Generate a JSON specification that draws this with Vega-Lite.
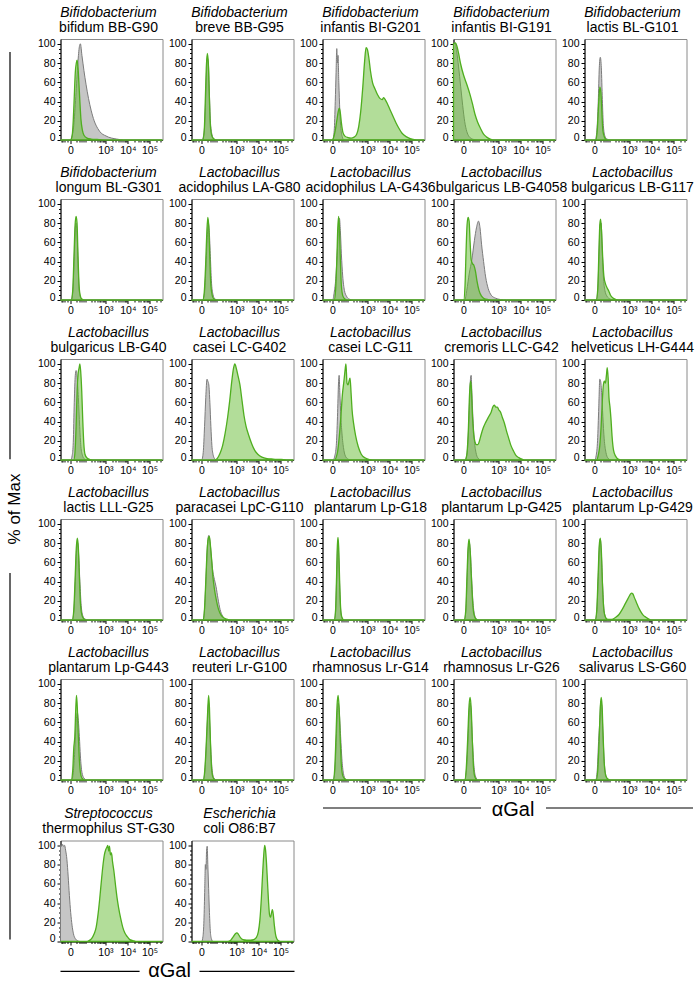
{
"$schema": "https://vega.github.io/schema/vega-lite/v6.json",
"padding": {"left": 0, "top": 5, "right": 0, "bottom": 0},
"background": "white",
"config": {
 "font": "Liberation Sans",
 "view": {"stroke": "#8a8a8a", "strokeWidth": 1},
 "title": {"font": "Liberation Sans", "fontSize": 14, "fontStyle": "italic", "fontWeight": "normal", "color": "#000", "subtitleFont": "Liberation Sans", "subtitleFontSize": 14, "subtitleColor": "#000", "subtitlePadding": 1, "offset": 4, "anchor": "middle", "dx": -3},
 "axis": {"domainColor": "#000", "tickColor": "#000", "labelColor": "#000", "labelFont": "Liberation Sans", "labelFontSize": 10.5, "labelPadding": 2, "grid": false, "title": null, "labelOverlap": false, "labelFlush": false},
 "axisX": {"labelExpr": "datum.value == 9.8 ? '0' : datum.value == 44 ? '10³' : datum.value == 66 ? '10⁴' : datum.value == 87.3 ? '10⁵' : ''", "tickSize": {"condition": {"test": "datum.value == 9.8 || datum.value == 44 || datum.value == 66 || datum.value == 87.3", "value": 3.5}, "value": 2}},
 "axisY": {"labelExpr": "datum.value % 20 == 0 ? datum.label : ''", "tickSize": {"condition": {"test": "datum.value % 20 == 0", "value": 3.5}, "value": 2}, "labelBaseline": {"condition": {"test": "datum.value == 0", "value": "alphabetic"}, "value": "middle"}}
},
"data": {"values": [
{"p":1,"g":"c","x":0,"y":0},{"p":1,"g":"c","x":9.5,"y":0},{"p":1,"g":"c","x":11,"y":3},{"p":1,"g":"c","x":13,"y":15},{"p":1,"g":"c","x":15,"y":45},{"p":1,"g":"c","x":17,"y":80},{"p":1,"g":"c","x":18.5,"y":97},{"p":1,"g":"c","x":19.5,"y":100},{"p":1,"g":"c","x":21,"y":88},{"p":1,"g":"c","x":23,"y":72},{"p":1,"g":"c","x":25,"y":58},{"p":1,"g":"c","x":27.5,"y":43},{"p":1,"g":"c","x":30,"y":31},{"p":1,"g":"c","x":33,"y":20},{"p":1,"g":"c","x":36.5,"y":12},{"p":1,"g":"c","x":40,"y":7},{"p":1,"g":"c","x":43,"y":5},{"p":1,"g":"c","x":47,"y":3},{"p":1,"g":"c","x":50,"y":2},{"p":1,"g":"c","x":55,"y":1},{"p":1,"g":"c","x":62,"y":0},{"p":1,"g":"c","x":100,"y":0},
{"p":1,"g":"s","x":0,"y":0},{"p":1,"g":"s","x":10,"y":0},{"p":1,"g":"s","x":11.5,"y":5},{"p":1,"g":"s","x":12.5,"y":20},{"p":1,"g":"s","x":13.5,"y":45},{"p":1,"g":"s","x":14.5,"y":70},{"p":1,"g":"s","x":15.5,"y":80},{"p":1,"g":"s","x":16.3,"y":83},{"p":1,"g":"s","x":17.2,"y":75},{"p":1,"g":"s","x":18,"y":60},{"p":1,"g":"s","x":19,"y":40},{"p":1,"g":"s","x":20,"y":22},{"p":1,"g":"s","x":21.5,"y":10},{"p":1,"g":"s","x":23,"y":5},{"p":1,"g":"s","x":26,"y":2},{"p":1,"g":"s","x":30,"y":1},{"p":1,"g":"s","x":36,"y":0.5},{"p":1,"g":"s","x":45,"y":0},{"p":1,"g":"s","x":100,"y":0},
{"p":2,"g":"c","x":0,"y":0},{"p":2,"g":"c","x":10,"y":0},{"p":2,"g":"c","x":12,"y":5},{"p":2,"g":"c","x":13.5,"y":30},{"p":2,"g":"c","x":14.5,"y":65},{"p":2,"g":"c","x":15.5,"y":85},{"p":2,"g":"c","x":16.5,"y":80},{"p":2,"g":"c","x":17.5,"y":50},{"p":2,"g":"c","x":18.5,"y":20},{"p":2,"g":"c","x":20,"y":6},{"p":2,"g":"c","x":22,"y":1},{"p":2,"g":"c","x":25,"y":0},{"p":2,"g":"c","x":100,"y":0},
{"p":2,"g":"s","x":0,"y":0},{"p":2,"g":"s","x":11,"y":0},{"p":2,"g":"s","x":12.5,"y":10},{"p":2,"g":"s","x":13.5,"y":40},{"p":2,"g":"s","x":14.5,"y":75},{"p":2,"g":"s","x":15.5,"y":90},{"p":2,"g":"s","x":16.5,"y":80},{"p":2,"g":"s","x":17.5,"y":45},{"p":2,"g":"s","x":18.5,"y":15},{"p":2,"g":"s","x":20,"y":4},{"p":2,"g":"s","x":22,"y":1},{"p":2,"g":"s","x":25,"y":0},{"p":2,"g":"s","x":100,"y":0},
{"p":3,"g":"c","x":0,"y":0},{"p":3,"g":"c","x":10,"y":0},{"p":3,"g":"c","x":11.5,"y":10},{"p":3,"g":"c","x":12.5,"y":40},{"p":3,"g":"c","x":13.3,"y":70},{"p":3,"g":"c","x":14,"y":95},{"p":3,"g":"c","x":14.6,"y":80},{"p":3,"g":"c","x":15.2,"y":88},{"p":3,"g":"c","x":16,"y":60},{"p":3,"g":"c","x":17,"y":30},{"p":3,"g":"c","x":18,"y":12},{"p":3,"g":"c","x":19.5,"y":3},{"p":3,"g":"c","x":21,"y":0},{"p":3,"g":"c","x":100,"y":0},
{"p":3,"g":"s","x":0,"y":0},{"p":3,"g":"s","x":9.5,"y":0},{"p":3,"g":"s","x":11,"y":3},{"p":3,"g":"s","x":12.5,"y":10},{"p":3,"g":"s","x":14,"y":20},{"p":3,"g":"s","x":15.5,"y":30},{"p":3,"g":"s","x":16.5,"y":33},{"p":3,"g":"s","x":17.5,"y":28},{"p":3,"g":"s","x":18.5,"y":18},{"p":3,"g":"s","x":20,"y":8},{"p":3,"g":"s","x":22,"y":4},{"p":3,"g":"s","x":25,"y":2.5},{"p":3,"g":"s","x":28,"y":2},{"p":3,"g":"s","x":31,"y":3},{"p":3,"g":"s","x":33.5,"y":6},{"p":3,"g":"s","x":35.5,"y":14},{"p":3,"g":"s","x":37.5,"y":30},{"p":3,"g":"s","x":39.5,"y":55},{"p":3,"g":"s","x":41.3,"y":82},{"p":3,"g":"s","x":42.7,"y":96},{"p":3,"g":"s","x":44,"y":94},{"p":3,"g":"s","x":45.5,"y":85},{"p":3,"g":"s","x":47,"y":72},{"p":3,"g":"s","x":49,"y":60},{"p":3,"g":"s","x":51.5,"y":53},{"p":3,"g":"s","x":54,"y":47},{"p":3,"g":"s","x":56.5,"y":43},{"p":3,"g":"s","x":58.5,"y":42},{"p":3,"g":"s","x":60,"y":44},{"p":3,"g":"s","x":61.5,"y":42},{"p":3,"g":"s","x":63.5,"y":38},{"p":3,"g":"s","x":66,"y":32},{"p":3,"g":"s","x":69,"y":25},{"p":3,"g":"s","x":72,"y":18},{"p":3,"g":"s","x":75,"y":12},{"p":3,"g":"s","x":78,"y":7},{"p":3,"g":"s","x":82,"y":3.5},{"p":3,"g":"s","x":86,"y":1.5},{"p":3,"g":"s","x":90,"y":0.5},{"p":3,"g":"s","x":94,"y":0},{"p":3,"g":"s","x":100,"y":0},
{"p":4,"g":"c","x":0,"y":100},{"p":4,"g":"c","x":1.5,"y":101},{"p":4,"g":"c","x":3,"y":93},{"p":4,"g":"c","x":5,"y":76},{"p":4,"g":"c","x":7,"y":56},{"p":4,"g":"c","x":9,"y":36},{"p":4,"g":"c","x":11,"y":19},{"p":4,"g":"c","x":13,"y":9},{"p":4,"g":"c","x":15,"y":4},{"p":4,"g":"c","x":17.5,"y":1.5},{"p":4,"g":"c","x":20,"y":0.5},{"p":4,"g":"c","x":24,"y":0},{"p":4,"g":"c","x":100,"y":0},
{"p":4,"g":"s","x":0,"y":100},{"p":4,"g":"s","x":2,"y":101},{"p":4,"g":"s","x":3.5,"y":97},{"p":4,"g":"s","x":5,"y":90},{"p":4,"g":"s","x":7,"y":79},{"p":4,"g":"s","x":10,"y":67},{"p":4,"g":"s","x":13,"y":58},{"p":4,"g":"s","x":16,"y":48},{"p":4,"g":"s","x":18.5,"y":38},{"p":4,"g":"s","x":21,"y":27},{"p":4,"g":"s","x":23.5,"y":19},{"p":4,"g":"s","x":26.5,"y":12},{"p":4,"g":"s","x":29.5,"y":6},{"p":4,"g":"s","x":32.5,"y":3},{"p":4,"g":"s","x":36,"y":1},{"p":4,"g":"s","x":40,"y":0},{"p":4,"g":"s","x":100,"y":0},
{"p":5,"g":"c","x":0,"y":0},{"p":5,"g":"c","x":10.5,"y":0},{"p":5,"g":"c","x":12,"y":8},{"p":5,"g":"c","x":13.5,"y":40},{"p":5,"g":"c","x":14.5,"y":75},{"p":5,"g":"c","x":15.5,"y":86},{"p":5,"g":"c","x":16.5,"y":75},{"p":5,"g":"c","x":17.5,"y":42},{"p":5,"g":"c","x":18.5,"y":15},{"p":5,"g":"c","x":20,"y":4},{"p":5,"g":"c","x":22,"y":1},{"p":5,"g":"c","x":25,"y":0},{"p":5,"g":"c","x":100,"y":0},
{"p":5,"g":"s","x":0,"y":0},{"p":5,"g":"s","x":11,"y":0},{"p":5,"g":"s","x":12.5,"y":10},{"p":5,"g":"s","x":14,"y":40},{"p":5,"g":"s","x":15,"y":55},{"p":5,"g":"s","x":16,"y":50},{"p":5,"g":"s","x":17,"y":30},{"p":5,"g":"s","x":18,"y":10},{"p":5,"g":"s","x":19.5,"y":3},{"p":5,"g":"s","x":22,"y":0},{"p":5,"g":"s","x":100,"y":0},
{"p":6,"g":"c","x":0,"y":0},{"p":6,"g":"c","x":10.5,"y":0},{"p":6,"g":"c","x":12,"y":8},{"p":6,"g":"c","x":13.5,"y":45},{"p":6,"g":"c","x":14.5,"y":75},{"p":6,"g":"c","x":15.3,"y":80},{"p":6,"g":"c","x":16.2,"y":70},{"p":6,"g":"c","x":17.2,"y":38},{"p":6,"g":"c","x":18.2,"y":12},{"p":6,"g":"c","x":19.5,"y":3},{"p":6,"g":"c","x":21,"y":0},{"p":6,"g":"c","x":100,"y":0},
{"p":6,"g":"s","x":0,"y":0},{"p":6,"g":"s","x":10.5,"y":0},{"p":6,"g":"s","x":12,"y":10},{"p":6,"g":"s","x":13.2,"y":45},{"p":6,"g":"s","x":14.3,"y":78},{"p":6,"g":"s","x":15.3,"y":87},{"p":6,"g":"s","x":16.2,"y":80},{"p":6,"g":"s","x":17.2,"y":45},{"p":6,"g":"s","x":18.2,"y":15},{"p":6,"g":"s","x":19.5,"y":4},{"p":6,"g":"s","x":21,"y":1},{"p":6,"g":"s","x":24,"y":0},{"p":6,"g":"s","x":100,"y":0},
{"p":7,"g":"c","x":0,"y":0},{"p":7,"g":"c","x":11,"y":0},{"p":7,"g":"c","x":12.5,"y":5},{"p":7,"g":"c","x":14,"y":30},{"p":7,"g":"c","x":15.3,"y":62},{"p":7,"g":"c","x":16.5,"y":80},{"p":7,"g":"c","x":17.5,"y":70},{"p":7,"g":"c","x":18.5,"y":45},{"p":7,"g":"c","x":19.5,"y":20},{"p":7,"g":"c","x":21,"y":6},{"p":7,"g":"c","x":23,"y":1},{"p":7,"g":"c","x":26,"y":0},{"p":7,"g":"c","x":100,"y":0},
{"p":7,"g":"s","x":0,"y":0},{"p":7,"g":"s","x":11,"y":0},{"p":7,"g":"s","x":12.5,"y":8},{"p":7,"g":"s","x":13.8,"y":35},{"p":7,"g":"s","x":15,"y":70},{"p":7,"g":"s","x":16,"y":86},{"p":7,"g":"s","x":17,"y":75},{"p":7,"g":"s","x":18,"y":42},{"p":7,"g":"s","x":19,"y":15},{"p":7,"g":"s","x":20.5,"y":4},{"p":7,"g":"s","x":22,"y":1},{"p":7,"g":"s","x":25,"y":0},{"p":7,"g":"s","x":100,"y":0},
{"p":8,"g":"c","x":0,"y":0},{"p":8,"g":"c","x":10,"y":0},{"p":8,"g":"c","x":11.5,"y":8},{"p":8,"g":"c","x":13,"y":22},{"p":8,"g":"c","x":14.5,"y":50},{"p":8,"g":"c","x":15.8,"y":78},{"p":8,"g":"c","x":16.6,"y":85},{"p":8,"g":"c","x":17.5,"y":72},{"p":8,"g":"c","x":18.5,"y":48},{"p":8,"g":"c","x":19.8,"y":25},{"p":8,"g":"c","x":21.5,"y":10},{"p":8,"g":"c","x":23.5,"y":4},{"p":8,"g":"c","x":26,"y":1},{"p":8,"g":"c","x":30,"y":0},{"p":8,"g":"c","x":100,"y":0},
{"p":8,"g":"s","x":0,"y":0},{"p":8,"g":"s","x":11.5,"y":0},{"p":8,"g":"s","x":12.8,"y":10},{"p":8,"g":"s","x":14,"y":40},{"p":8,"g":"s","x":15,"y":75},{"p":8,"g":"s","x":15.8,"y":87},{"p":8,"g":"s","x":16.6,"y":75},{"p":8,"g":"s","x":17.5,"y":42},{"p":8,"g":"s","x":18.5,"y":15},{"p":8,"g":"s","x":20,"y":4},{"p":8,"g":"s","x":22,"y":1},{"p":8,"g":"s","x":25,"y":0},{"p":8,"g":"s","x":100,"y":0},
{"p":9,"g":"c","x":0,"y":0},{"p":9,"g":"c","x":11,"y":0},{"p":9,"g":"c","x":13,"y":10},{"p":9,"g":"c","x":15.5,"y":28},{"p":9,"g":"c","x":18,"y":42},{"p":9,"g":"c","x":20.5,"y":62},{"p":9,"g":"c","x":22.5,"y":75},{"p":9,"g":"c","x":24.5,"y":82},{"p":9,"g":"c","x":26,"y":75},{"p":9,"g":"c","x":27.5,"y":58},{"p":9,"g":"c","x":29.5,"y":40},{"p":9,"g":"c","x":31.5,"y":24},{"p":9,"g":"c","x":34,"y":12},{"p":9,"g":"c","x":37,"y":5},{"p":9,"g":"c","x":41,"y":2},{"p":9,"g":"c","x":46,"y":0.5},{"p":9,"g":"c","x":52,"y":0},{"p":9,"g":"c","x":100,"y":0},
{"p":9,"g":"s","x":0,"y":0},{"p":9,"g":"s","x":10,"y":0},{"p":9,"g":"s","x":11.3,"y":15},{"p":9,"g":"s","x":12.3,"y":50},{"p":9,"g":"s","x":13.3,"y":78},{"p":9,"g":"s","x":14.3,"y":86},{"p":9,"g":"s","x":15.3,"y":82},{"p":9,"g":"s","x":16.3,"y":60},{"p":9,"g":"s","x":17.3,"y":42},{"p":9,"g":"s","x":18.5,"y":38},{"p":9,"g":"s","x":20,"y":36},{"p":9,"g":"s","x":21.5,"y":30},{"p":9,"g":"s","x":23,"y":20},{"p":9,"g":"s","x":25,"y":10},{"p":9,"g":"s","x":27.5,"y":4},{"p":9,"g":"s","x":30,"y":1.5},{"p":9,"g":"s","x":34,"y":0.5},{"p":9,"g":"s","x":40,"y":0},{"p":9,"g":"s","x":100,"y":0},
{"p":10,"g":"c","x":0,"y":0},{"p":10,"g":"c","x":11.5,"y":0},{"p":10,"g":"c","x":13,"y":10},{"p":10,"g":"c","x":14.3,"y":50},{"p":10,"g":"c","x":15.3,"y":78},{"p":10,"g":"c","x":16.3,"y":80},{"p":10,"g":"c","x":17.3,"y":55},{"p":10,"g":"c","x":18.5,"y":25},{"p":10,"g":"c","x":20,"y":10},{"p":10,"g":"c","x":22,"y":4},{"p":10,"g":"c","x":25,"y":1},{"p":10,"g":"c","x":28,"y":0},{"p":10,"g":"c","x":100,"y":0},
{"p":10,"g":"s","x":0,"y":0},{"p":10,"g":"s","x":11.5,"y":0},{"p":10,"g":"s","x":13,"y":12},{"p":10,"g":"s","x":14,"y":45},{"p":10,"g":"s","x":15,"y":78},{"p":10,"g":"s","x":15.8,"y":84},{"p":10,"g":"s","x":16.8,"y":70},{"p":10,"g":"s","x":17.8,"y":45},{"p":10,"g":"s","x":19,"y":25},{"p":10,"g":"s","x":20.5,"y":17},{"p":10,"g":"s","x":22,"y":13},{"p":10,"g":"s","x":23.5,"y":10},{"p":10,"g":"s","x":25.5,"y":5},{"p":10,"g":"s","x":28,"y":2},{"p":10,"g":"s","x":31,"y":0.5},{"p":10,"g":"s","x":35,"y":0},{"p":10,"g":"s","x":100,"y":0},
{"p":11,"g":"c","x":0,"y":0},{"p":11,"g":"c","x":10,"y":0},{"p":11,"g":"c","x":11.5,"y":5},{"p":11,"g":"c","x":12.5,"y":18},{"p":11,"g":"c","x":13.5,"y":60},{"p":11,"g":"c","x":14.5,"y":88},{"p":11,"g":"c","x":15.3,"y":93},{"p":11,"g":"c","x":16.3,"y":86},{"p":11,"g":"c","x":17.5,"y":65},{"p":11,"g":"c","x":18.8,"y":35},{"p":11,"g":"c","x":20,"y":14},{"p":11,"g":"c","x":21.5,"y":5},{"p":11,"g":"c","x":23.5,"y":1},{"p":11,"g":"c","x":26,"y":0},{"p":11,"g":"c","x":100,"y":0},
{"p":11,"g":"s","x":0,"y":0},{"p":11,"g":"s","x":13,"y":0},{"p":11,"g":"s","x":14.2,"y":8},{"p":11,"g":"s","x":15.3,"y":35},{"p":11,"g":"s","x":16.3,"y":72},{"p":11,"g":"s","x":17.3,"y":90},{"p":11,"g":"s","x":18.3,"y":96},{"p":11,"g":"s","x":19,"y":100},{"p":11,"g":"s","x":19.8,"y":92},{"p":11,"g":"s","x":20.8,"y":72},{"p":11,"g":"s","x":21.8,"y":42},{"p":11,"g":"s","x":22.8,"y":18},{"p":11,"g":"s","x":24,"y":6},{"p":11,"g":"s","x":26,"y":2},{"p":11,"g":"s","x":29,"y":0.5},{"p":11,"g":"s","x":33,"y":0},{"p":11,"g":"s","x":100,"y":0},
{"p":12,"g":"c","x":0,"y":0},{"p":12,"g":"c","x":10,"y":0},{"p":12,"g":"c","x":11.5,"y":8},{"p":12,"g":"c","x":12.8,"y":35},{"p":12,"g":"c","x":14,"y":65},{"p":12,"g":"c","x":15.2,"y":84},{"p":12,"g":"c","x":16,"y":82},{"p":12,"g":"c","x":17,"y":78},{"p":12,"g":"c","x":18,"y":60},{"p":12,"g":"c","x":19,"y":35},{"p":12,"g":"c","x":20,"y":15},{"p":12,"g":"c","x":21.3,"y":5},{"p":12,"g":"c","x":23,"y":1},{"p":12,"g":"c","x":25,"y":0},{"p":12,"g":"c","x":100,"y":0},
{"p":12,"g":"s","x":0,"y":0},{"p":12,"g":"s","x":23,"y":0},{"p":12,"g":"s","x":25.5,"y":2},{"p":12,"g":"s","x":28,"y":7},{"p":12,"g":"s","x":30.5,"y":15},{"p":12,"g":"s","x":33,"y":28},{"p":12,"g":"s","x":35.5,"y":45},{"p":12,"g":"s","x":37.5,"y":62},{"p":12,"g":"s","x":39.5,"y":82},{"p":12,"g":"s","x":41.3,"y":96},{"p":12,"g":"s","x":42.5,"y":100},{"p":12,"g":"s","x":44,"y":95},{"p":12,"g":"s","x":45.5,"y":88},{"p":12,"g":"s","x":47.5,"y":78},{"p":12,"g":"s","x":49.5,"y":62},{"p":12,"g":"s","x":51.5,"y":46},{"p":12,"g":"s","x":53.5,"y":35},{"p":12,"g":"s","x":56,"y":26},{"p":12,"g":"s","x":59,"y":17},{"p":12,"g":"s","x":62,"y":10},{"p":12,"g":"s","x":65,"y":6},{"p":12,"g":"s","x":69,"y":3},{"p":12,"g":"s","x":74,"y":1.5},{"p":12,"g":"s","x":80,"y":1},{"p":12,"g":"s","x":88,"y":0.5},{"p":12,"g":"s","x":95,"y":0},{"p":12,"g":"s","x":100,"y":0},
{"p":13,"g":"c","x":0,"y":0},{"p":13,"g":"c","x":10.5,"y":0},{"p":13,"g":"c","x":12,"y":4},{"p":13,"g":"c","x":13.5,"y":15},{"p":13,"g":"c","x":14.7,"y":45},{"p":13,"g":"c","x":15.7,"y":80},{"p":13,"g":"c","x":16.3,"y":88},{"p":13,"g":"c","x":17,"y":70},{"p":13,"g":"c","x":18,"y":45},{"p":13,"g":"c","x":19.3,"y":25},{"p":13,"g":"c","x":21,"y":10},{"p":13,"g":"c","x":23,"y":3},{"p":13,"g":"c","x":26,"y":0.5},{"p":13,"g":"c","x":29,"y":0},{"p":13,"g":"c","x":100,"y":0},
{"p":13,"g":"s","x":0,"y":0},{"p":13,"g":"s","x":12,"y":0},{"p":13,"g":"s","x":13.5,"y":3},{"p":13,"g":"s","x":15,"y":10},{"p":13,"g":"s","x":16.5,"y":25},{"p":13,"g":"s","x":18,"y":45},{"p":13,"g":"s","x":19.5,"y":68},{"p":13,"g":"s","x":21,"y":82},{"p":13,"g":"s","x":22.3,"y":95},{"p":13,"g":"s","x":23,"y":100},{"p":13,"g":"s","x":24,"y":80},{"p":13,"g":"s","x":25,"y":78},{"p":13,"g":"s","x":26,"y":82},{"p":13,"g":"s","x":27,"y":85},{"p":13,"g":"s","x":28,"y":70},{"p":13,"g":"s","x":29,"y":52},{"p":13,"g":"s","x":30.5,"y":38},{"p":13,"g":"s","x":32.5,"y":25},{"p":13,"g":"s","x":35,"y":14},{"p":13,"g":"s","x":38,"y":6},{"p":13,"g":"s","x":42,"y":2},{"p":13,"g":"s","x":46,"y":0.5},{"p":13,"g":"s","x":52,"y":0},{"p":13,"g":"s","x":100,"y":0},
{"p":14,"g":"c","x":0,"y":0},{"p":14,"g":"c","x":11,"y":0},{"p":14,"g":"c","x":13,"y":5},{"p":14,"g":"c","x":14.5,"y":25},{"p":14,"g":"c","x":15.7,"y":60},{"p":14,"g":"c","x":16.7,"y":85},{"p":14,"g":"c","x":17.3,"y":88},{"p":14,"g":"c","x":18,"y":70},{"p":14,"g":"c","x":19,"y":45},{"p":14,"g":"c","x":20.3,"y":22},{"p":14,"g":"c","x":22,"y":8},{"p":14,"g":"c","x":24,"y":2},{"p":14,"g":"c","x":27,"y":0},{"p":14,"g":"c","x":100,"y":0},
{"p":14,"g":"s","x":0,"y":0},{"p":14,"g":"s","x":11.5,"y":0},{"p":14,"g":"s","x":13,"y":5},{"p":14,"g":"s","x":14.5,"y":30},{"p":14,"g":"s","x":15.8,"y":70},{"p":14,"g":"s","x":16.7,"y":82},{"p":14,"g":"s","x":17.5,"y":75},{"p":14,"g":"s","x":18.5,"y":48},{"p":14,"g":"s","x":19.7,"y":28},{"p":14,"g":"s","x":21,"y":19},{"p":14,"g":"s","x":22.5,"y":16},{"p":14,"g":"s","x":24,"y":16},{"p":14,"g":"s","x":25.5,"y":20},{"p":14,"g":"s","x":27,"y":26},{"p":14,"g":"s","x":29,"y":33},{"p":14,"g":"s","x":31,"y":38},{"p":14,"g":"s","x":33,"y":42},{"p":14,"g":"s","x":35,"y":46},{"p":14,"g":"s","x":37,"y":50},{"p":14,"g":"s","x":38.5,"y":55},{"p":14,"g":"s","x":40,"y":57},{"p":14,"g":"s","x":41.5,"y":55},{"p":14,"g":"s","x":43,"y":55},{"p":14,"g":"s","x":44.5,"y":52},{"p":14,"g":"s","x":46,"y":50},{"p":14,"g":"s","x":48,"y":44},{"p":14,"g":"s","x":50,"y":38},{"p":14,"g":"s","x":52,"y":30},{"p":14,"g":"s","x":54,"y":23},{"p":14,"g":"s","x":56,"y":16},{"p":14,"g":"s","x":58.5,"y":10},{"p":14,"g":"s","x":61,"y":5},{"p":14,"g":"s","x":64,"y":2.5},{"p":14,"g":"s","x":67,"y":1},{"p":14,"g":"s","x":70,"y":0},{"p":14,"g":"s","x":100,"y":0},
{"p":15,"g":"c","x":0,"y":0},{"p":15,"g":"c","x":10,"y":0},{"p":15,"g":"c","x":11.5,"y":5},{"p":15,"g":"c","x":12.8,"y":20},{"p":15,"g":"c","x":14,"y":55},{"p":15,"g":"c","x":15,"y":84},{"p":15,"g":"c","x":15.8,"y":82},{"p":15,"g":"c","x":16.8,"y":70},{"p":15,"g":"c","x":18,"y":45},{"p":15,"g":"c","x":19.3,"y":22},{"p":15,"g":"c","x":21,"y":8},{"p":15,"g":"c","x":23,"y":2},{"p":15,"g":"c","x":26,"y":0},{"p":15,"g":"c","x":100,"y":0},
{"p":15,"g":"s","x":0,"y":0},{"p":15,"g":"s","x":12,"y":0},{"p":15,"g":"s","x":13.5,"y":5},{"p":15,"g":"s","x":15,"y":15},{"p":15,"g":"s","x":16.3,"y":35},{"p":15,"g":"s","x":17.5,"y":62},{"p":15,"g":"s","x":18.5,"y":78},{"p":15,"g":"s","x":19.5,"y":82},{"p":15,"g":"s","x":20.5,"y":80},{"p":15,"g":"s","x":21.5,"y":88},{"p":15,"g":"s","x":22.3,"y":96},{"p":15,"g":"s","x":23.2,"y":85},{"p":15,"g":"s","x":24,"y":65},{"p":15,"g":"s","x":25,"y":55},{"p":15,"g":"s","x":26,"y":42},{"p":15,"g":"s","x":27,"y":25},{"p":15,"g":"s","x":28.5,"y":10},{"p":15,"g":"s","x":30.5,"y":4},{"p":15,"g":"s","x":33,"y":1},{"p":15,"g":"s","x":37,"y":0},{"p":15,"g":"s","x":100,"y":0},
{"p":16,"g":"c","x":0,"y":0},{"p":16,"g":"c","x":11.5,"y":0},{"p":16,"g":"c","x":13,"y":8},{"p":16,"g":"c","x":14.5,"y":40},{"p":16,"g":"c","x":15.7,"y":72},{"p":16,"g":"c","x":16.8,"y":80},{"p":16,"g":"c","x":17.8,"y":68},{"p":16,"g":"c","x":19,"y":40},{"p":16,"g":"c","x":20.3,"y":15},{"p":16,"g":"c","x":22,"y":4},{"p":16,"g":"c","x":24,"y":1},{"p":16,"g":"c","x":27,"y":0},{"p":16,"g":"c","x":100,"y":0},
{"p":16,"g":"s","x":0,"y":0},{"p":16,"g":"s","x":11.5,"y":0},{"p":16,"g":"s","x":13,"y":10},{"p":16,"g":"s","x":14.3,"y":42},{"p":16,"g":"s","x":15.5,"y":75},{"p":16,"g":"s","x":16.5,"y":85},{"p":16,"g":"s","x":17.5,"y":75},{"p":16,"g":"s","x":18.5,"y":45},{"p":16,"g":"s","x":19.5,"y":18},{"p":16,"g":"s","x":21,"y":5},{"p":16,"g":"s","x":23,"y":1},{"p":16,"g":"s","x":26,"y":0},{"p":16,"g":"s","x":100,"y":0},
{"p":17,"g":"c","x":0,"y":0},{"p":17,"g":"c","x":11.5,"y":0},{"p":17,"g":"c","x":13,"y":15},{"p":17,"g":"c","x":14.5,"y":50},{"p":17,"g":"c","x":15.8,"y":80},{"p":17,"g":"c","x":17,"y":88},{"p":17,"g":"c","x":18.3,"y":80},{"p":17,"g":"c","x":19.5,"y":65},{"p":17,"g":"c","x":21,"y":50},{"p":17,"g":"c","x":22.5,"y":42},{"p":17,"g":"c","x":24,"y":35},{"p":17,"g":"c","x":26,"y":22},{"p":17,"g":"c","x":28,"y":11},{"p":17,"g":"c","x":30.5,"y":4},{"p":17,"g":"c","x":33,"y":1},{"p":17,"g":"c","x":37,"y":0},{"p":17,"g":"c","x":100,"y":0},
{"p":17,"g":"s","x":0,"y":0},{"p":17,"g":"s","x":11.5,"y":0},{"p":17,"g":"s","x":12.8,"y":12},{"p":17,"g":"s","x":14,"y":40},{"p":17,"g":"s","x":15.3,"y":72},{"p":17,"g":"s","x":16.5,"y":85},{"p":17,"g":"s","x":17.5,"y":87},{"p":17,"g":"s","x":18.5,"y":78},{"p":17,"g":"s","x":19.8,"y":62},{"p":17,"g":"s","x":21,"y":45},{"p":17,"g":"s","x":22.5,"y":32},{"p":17,"g":"s","x":24.5,"y":20},{"p":17,"g":"s","x":26.5,"y":11},{"p":17,"g":"s","x":29,"y":5},{"p":17,"g":"s","x":32,"y":2},{"p":17,"g":"s","x":36,"y":0.5},{"p":17,"g":"s","x":40,"y":0},{"p":17,"g":"s","x":100,"y":0},
{"p":18,"g":"c","x":0,"y":0},{"p":18,"g":"c","x":11.5,"y":0},{"p":18,"g":"c","x":12.8,"y":8},{"p":18,"g":"c","x":13.8,"y":40},{"p":18,"g":"c","x":14.6,"y":72},{"p":18,"g":"c","x":15.2,"y":80},{"p":18,"g":"c","x":16,"y":65},{"p":18,"g":"c","x":17,"y":30},{"p":18,"g":"c","x":18,"y":8},{"p":18,"g":"c","x":19.5,"y":1},{"p":18,"g":"c","x":21,"y":0},{"p":18,"g":"c","x":100,"y":0},
{"p":18,"g":"s","x":0,"y":0},{"p":18,"g":"s","x":11.5,"y":0},{"p":18,"g":"s","x":12.8,"y":10},{"p":18,"g":"s","x":13.8,"y":45},{"p":18,"g":"s","x":14.6,"y":78},{"p":18,"g":"s","x":15.2,"y":86},{"p":18,"g":"s","x":15.9,"y":75},{"p":18,"g":"s","x":16.8,"y":40},{"p":18,"g":"s","x":17.8,"y":12},{"p":18,"g":"s","x":19,"y":3},{"p":18,"g":"s","x":21,"y":0},{"p":18,"g":"s","x":100,"y":0},
{"p":19,"g":"c","x":0,"y":0},{"p":19,"g":"c","x":10.5,"y":0},{"p":19,"g":"c","x":12,"y":8},{"p":19,"g":"c","x":13.3,"y":40},{"p":19,"g":"c","x":14.5,"y":75},{"p":19,"g":"c","x":15.5,"y":80},{"p":19,"g":"c","x":16.5,"y":72},{"p":19,"g":"c","x":17.7,"y":45},{"p":19,"g":"c","x":19,"y":20},{"p":19,"g":"c","x":20.5,"y":6},{"p":19,"g":"c","x":22.5,"y":1},{"p":19,"g":"c","x":25,"y":0},{"p":19,"g":"c","x":100,"y":0},
{"p":19,"g":"s","x":0,"y":0},{"p":19,"g":"s","x":10.5,"y":0},{"p":19,"g":"s","x":12,"y":10},{"p":19,"g":"s","x":13.2,"y":45},{"p":19,"g":"s","x":14.3,"y":75},{"p":19,"g":"s","x":15.3,"y":84},{"p":19,"g":"s","x":16.3,"y":72},{"p":19,"g":"s","x":17.5,"y":45},{"p":19,"g":"s","x":18.7,"y":20},{"p":19,"g":"s","x":20,"y":6},{"p":19,"g":"s","x":22,"y":1},{"p":19,"g":"s","x":25,"y":0},{"p":19,"g":"s","x":100,"y":0},
{"p":20,"g":"c","x":0,"y":0},{"p":20,"g":"c","x":10.5,"y":0},{"p":20,"g":"c","x":12,"y":8},{"p":20,"g":"c","x":13.5,"y":45},{"p":20,"g":"c","x":14.7,"y":78},{"p":20,"g":"c","x":15.5,"y":84},{"p":20,"g":"c","x":16.5,"y":70},{"p":20,"g":"c","x":17.7,"y":38},{"p":20,"g":"c","x":19,"y":12},{"p":20,"g":"c","x":20.5,"y":3},{"p":20,"g":"c","x":22,"y":0},{"p":20,"g":"c","x":100,"y":0},
{"p":20,"g":"s","x":0,"y":0},{"p":20,"g":"s","x":10.5,"y":0},{"p":20,"g":"s","x":12,"y":10},{"p":20,"g":"s","x":13.3,"y":45},{"p":20,"g":"s","x":14.5,"y":78},{"p":20,"g":"s","x":15.5,"y":85},{"p":20,"g":"s","x":16.5,"y":72},{"p":20,"g":"s","x":17.7,"y":35},{"p":20,"g":"s","x":19,"y":10},{"p":20,"g":"s","x":20.5,"y":3},{"p":20,"g":"s","x":22,"y":1},{"p":20,"g":"s","x":25,"y":0.5},{"p":20,"g":"s","x":28,"y":1},{"p":20,"g":"s","x":31,"y":3},{"p":20,"g":"s","x":34,"y":6},{"p":20,"g":"s","x":37,"y":11},{"p":20,"g":"s","x":40,"y":17},{"p":20,"g":"s","x":42.5,"y":22},{"p":20,"g":"s","x":44.5,"y":26},{"p":20,"g":"s","x":46,"y":28},{"p":20,"g":"s","x":47.5,"y":27},{"p":20,"g":"s","x":49,"y":23},{"p":20,"g":"s","x":51,"y":18},{"p":20,"g":"s","x":53,"y":13},{"p":20,"g":"s","x":55,"y":9},{"p":20,"g":"s","x":57.5,"y":5},{"p":20,"g":"s","x":60,"y":3},{"p":20,"g":"s","x":63,"y":1},{"p":20,"g":"s","x":66,"y":0},{"p":20,"g":"s","x":100,"y":0},
{"p":21,"g":"c","x":0,"y":0},{"p":21,"g":"c","x":11,"y":0},{"p":21,"g":"c","x":12.5,"y":8},{"p":21,"g":"c","x":14,"y":30},{"p":21,"g":"c","x":15.3,"y":60},{"p":21,"g":"c","x":16.5,"y":70},{"p":21,"g":"c","x":17.5,"y":62},{"p":21,"g":"c","x":18.5,"y":45},{"p":21,"g":"c","x":19.5,"y":25},{"p":21,"g":"c","x":21,"y":8},{"p":21,"g":"c","x":23,"y":2},{"p":21,"g":"c","x":26,"y":0},{"p":21,"g":"c","x":100,"y":0},
{"p":21,"g":"s","x":0,"y":0},{"p":21,"g":"s","x":10.5,"y":0},{"p":21,"g":"s","x":12,"y":10},{"p":21,"g":"s","x":13,"y":33},{"p":21,"g":"s","x":14,"y":45},{"p":21,"g":"s","x":15,"y":75},{"p":21,"g":"s","x":15.7,"y":88},{"p":21,"g":"s","x":16.5,"y":75},{"p":21,"g":"s","x":17.3,"y":50},{"p":21,"g":"s","x":18.3,"y":25},{"p":21,"g":"s","x":19.5,"y":8},{"p":21,"g":"s","x":21,"y":2},{"p":21,"g":"s","x":24,"y":0},{"p":21,"g":"s","x":100,"y":0},
{"p":22,"g":"c","x":0,"y":0},{"p":22,"g":"c","x":11.5,"y":0},{"p":22,"g":"c","x":13,"y":8},{"p":22,"g":"c","x":14.5,"y":35},{"p":22,"g":"c","x":15.8,"y":65},{"p":22,"g":"c","x":16.8,"y":80},{"p":22,"g":"c","x":17.8,"y":60},{"p":22,"g":"c","x":19,"y":30},{"p":22,"g":"c","x":20.5,"y":8},{"p":22,"g":"c","x":22,"y":2},{"p":22,"g":"c","x":25,"y":0},{"p":22,"g":"c","x":100,"y":0},
{"p":22,"g":"s","x":0,"y":0},{"p":22,"g":"s","x":11.5,"y":0},{"p":22,"g":"s","x":13,"y":10},{"p":22,"g":"s","x":14.5,"y":38},{"p":22,"g":"s","x":15.8,"y":70},{"p":22,"g":"s","x":16.8,"y":88},{"p":22,"g":"s","x":17.6,"y":75},{"p":22,"g":"s","x":18.5,"y":42},{"p":22,"g":"s","x":19.7,"y":12},{"p":22,"g":"s","x":21,"y":3},{"p":22,"g":"s","x":23,"y":0},{"p":22,"g":"s","x":100,"y":0},
{"p":23,"g":"c","x":0,"y":0},{"p":23,"g":"c","x":10.5,"y":0},{"p":23,"g":"c","x":12,"y":8},{"p":23,"g":"c","x":13.3,"y":35},{"p":23,"g":"c","x":14.5,"y":70},{"p":23,"g":"c","x":15.5,"y":80},{"p":23,"g":"c","x":16.5,"y":70},{"p":23,"g":"c","x":17.8,"y":45},{"p":23,"g":"c","x":19,"y":22},{"p":23,"g":"c","x":20.5,"y":7},{"p":23,"g":"c","x":22.5,"y":1},{"p":23,"g":"c","x":25,"y":0},{"p":23,"g":"c","x":100,"y":0},
{"p":23,"g":"s","x":0,"y":0},{"p":23,"g":"s","x":10.5,"y":0},{"p":23,"g":"s","x":12,"y":12},{"p":23,"g":"s","x":13.2,"y":45},{"p":23,"g":"s","x":14.3,"y":78},{"p":23,"g":"s","x":15.3,"y":88},{"p":23,"g":"s","x":16.3,"y":75},{"p":23,"g":"s","x":17.3,"y":45},{"p":23,"g":"s","x":18.5,"y":15},{"p":23,"g":"s","x":20,"y":4},{"p":23,"g":"s","x":22,"y":1},{"p":23,"g":"s","x":25,"y":0},{"p":23,"g":"s","x":100,"y":0},
{"p":24,"g":"c","x":0,"y":0},{"p":24,"g":"c","x":11,"y":0},{"p":24,"g":"c","x":12.5,"y":8},{"p":24,"g":"c","x":14,"y":35},{"p":24,"g":"c","x":15.3,"y":70},{"p":24,"g":"c","x":16.3,"y":80},{"p":24,"g":"c","x":17.3,"y":70},{"p":24,"g":"c","x":18.5,"y":42},{"p":24,"g":"c","x":20,"y":15},{"p":24,"g":"c","x":21.5,"y":4},{"p":24,"g":"c","x":24,"y":0},{"p":24,"g":"c","x":100,"y":0},
{"p":24,"g":"s","x":0,"y":0},{"p":24,"g":"s","x":11,"y":0},{"p":24,"g":"s","x":12.5,"y":12},{"p":24,"g":"s","x":14,"y":45},{"p":24,"g":"s","x":15.3,"y":78},{"p":24,"g":"s","x":16.3,"y":86},{"p":24,"g":"s","x":17.3,"y":75},{"p":24,"g":"s","x":18.5,"y":40},{"p":24,"g":"s","x":19.7,"y":12},{"p":24,"g":"s","x":21,"y":3},{"p":24,"g":"s","x":23,"y":0},{"p":24,"g":"s","x":100,"y":0},
{"p":25,"g":"c","x":0,"y":0},{"p":25,"g":"c","x":11,"y":0},{"p":25,"g":"c","x":12.5,"y":10},{"p":25,"g":"c","x":13.8,"y":40},{"p":25,"g":"c","x":15,"y":62},{"p":25,"g":"c","x":16,"y":82},{"p":25,"g":"c","x":17,"y":75},{"p":25,"g":"c","x":18,"y":50},{"p":25,"g":"c","x":19.2,"y":22},{"p":25,"g":"c","x":20.5,"y":7},{"p":25,"g":"c","x":22.5,"y":1},{"p":25,"g":"c","x":25,"y":0},{"p":25,"g":"c","x":100,"y":0},
{"p":25,"g":"s","x":0,"y":0},{"p":25,"g":"s","x":11.5,"y":0},{"p":25,"g":"s","x":13,"y":10},{"p":25,"g":"s","x":14.3,"y":40},{"p":25,"g":"s","x":15.5,"y":75},{"p":25,"g":"s","x":16.3,"y":86},{"p":25,"g":"s","x":17.2,"y":78},{"p":25,"g":"s","x":18.3,"y":45},{"p":25,"g":"s","x":19.5,"y":15},{"p":25,"g":"s","x":21,"y":4},{"p":25,"g":"s","x":23,"y":1},{"p":25,"g":"s","x":26,"y":0},{"p":25,"g":"s","x":100,"y":0},
{"p":26,"g":"c","x":0,"y":100},{"p":26,"g":"c","x":1,"y":99},{"p":26,"g":"c","x":2,"y":101},{"p":26,"g":"c","x":3,"y":99},{"p":26,"g":"c","x":4,"y":100},{"p":26,"g":"c","x":5,"y":95},{"p":26,"g":"c","x":6.3,"y":85},{"p":26,"g":"c","x":7.5,"y":68},{"p":26,"g":"c","x":8.7,"y":48},{"p":26,"g":"c","x":10,"y":30},{"p":26,"g":"c","x":11.3,"y":17},{"p":26,"g":"c","x":12.7,"y":8},{"p":26,"g":"c","x":14.5,"y":3},{"p":26,"g":"c","x":16.5,"y":1},{"p":26,"g":"c","x":19,"y":0},{"p":26,"g":"c","x":100,"y":0},
{"p":26,"g":"s","x":0,"y":0},{"p":26,"g":"s","x":25,"y":0},{"p":26,"g":"s","x":28,"y":1},{"p":26,"g":"s","x":30.5,"y":3},{"p":26,"g":"s","x":33,"y":8},{"p":26,"g":"s","x":35,"y":15},{"p":26,"g":"s","x":37,"y":30},{"p":26,"g":"s","x":38.5,"y":45},{"p":26,"g":"s","x":40,"y":62},{"p":26,"g":"s","x":41.5,"y":78},{"p":26,"g":"s","x":43,"y":90},{"p":26,"g":"s","x":44.5,"y":96},{"p":26,"g":"s","x":45.5,"y":98},{"p":26,"g":"s","x":46.3,"y":100},{"p":26,"g":"s","x":47.3,"y":94},{"p":26,"g":"s","x":48,"y":99},{"p":26,"g":"s","x":49,"y":90},{"p":26,"g":"s","x":50,"y":92},{"p":26,"g":"s","x":51,"y":83},{"p":26,"g":"s","x":52.5,"y":72},{"p":26,"g":"s","x":54,"y":58},{"p":26,"g":"s","x":55.5,"y":45},{"p":26,"g":"s","x":57,"y":35},{"p":26,"g":"s","x":59,"y":24},{"p":26,"g":"s","x":61,"y":15},{"p":26,"g":"s","x":63,"y":9},{"p":26,"g":"s","x":65.5,"y":5},{"p":26,"g":"s","x":68,"y":2},{"p":26,"g":"s","x":71,"y":1},{"p":26,"g":"s","x":75,"y":0},{"p":26,"g":"s","x":100,"y":0},
{"p":27,"g":"c","x":0,"y":0},{"p":27,"g":"c","x":10,"y":0},{"p":27,"g":"c","x":11.2,"y":5},{"p":27,"g":"c","x":12.2,"y":22},{"p":27,"g":"c","x":13,"y":55},{"p":27,"g":"c","x":13.6,"y":80},{"p":27,"g":"c","x":14.2,"y":75},{"p":27,"g":"c","x":14.8,"y":95},{"p":27,"g":"c","x":15.4,"y":99},{"p":27,"g":"c","x":16,"y":80},{"p":27,"g":"c","x":16.8,"y":55},{"p":27,"g":"c","x":17.6,"y":30},{"p":27,"g":"c","x":18.5,"y":10},{"p":27,"g":"c","x":19.5,"y":3},{"p":27,"g":"c","x":21,"y":0},{"p":27,"g":"c","x":100,"y":0},
{"p":27,"g":"s","x":0,"y":0},{"p":27,"g":"s","x":34,"y":0},{"p":27,"g":"s","x":37,"y":0.5},{"p":27,"g":"s","x":39,"y":2},{"p":27,"g":"s","x":41,"y":5},{"p":27,"g":"s","x":43,"y":8},{"p":27,"g":"s","x":44.5,"y":9},{"p":27,"g":"s","x":46,"y":7.5},{"p":27,"g":"s","x":48,"y":4},{"p":27,"g":"s","x":50.5,"y":2},{"p":27,"g":"s","x":54,"y":1.5},{"p":27,"g":"s","x":58,"y":1.5},{"p":27,"g":"s","x":61,"y":2},{"p":27,"g":"s","x":63.5,"y":4},{"p":27,"g":"s","x":65.5,"y":10},{"p":27,"g":"s","x":67,"y":22},{"p":27,"g":"s","x":68.5,"y":45},{"p":27,"g":"s","x":69.7,"y":70},{"p":27,"g":"s","x":70.7,"y":88},{"p":27,"g":"s","x":71.7,"y":100},{"p":27,"g":"s","x":72.5,"y":96},{"p":27,"g":"s","x":73.5,"y":82},{"p":27,"g":"s","x":74.5,"y":62},{"p":27,"g":"s","x":75.5,"y":42},{"p":27,"g":"s","x":76.5,"y":28},{"p":27,"g":"s","x":77.5,"y":25},{"p":27,"g":"s","x":78.5,"y":30},{"p":27,"g":"s","x":79.3,"y":33},{"p":27,"g":"s","x":80.2,"y":28},{"p":27,"g":"s","x":81.2,"y":17},{"p":27,"g":"s","x":82.3,"y":8},{"p":27,"g":"s","x":83.5,"y":3},{"p":27,"g":"s","x":85,"y":1},{"p":27,"g":"s","x":87,"y":0},{"p":27,"g":"s","x":100,"y":0}
]},
"spacing": 13.5,
"hconcat": [
 {"width": 20, "height": 940, "data": {"values": [{}]}, "view": {"stroke": null},
  "layer": [
   {"mark": {"type": "rule", "color": "#000", "strokeWidth": 1.2}, "encoding": {"x": {"datum": 0.5, "type": "quantitative", "scale": {"domain": [0, 1]}, "axis": null}, "y": {"datum": 0.0138, "type": "quantitative", "scale": {"domain": [0, 1], "reverse": true}, "axis": null}, "y2": {"datum": 0.447}}},
   {"mark": {"type": "rule", "color": "#000", "strokeWidth": 1.2}, "encoding": {"x": {"datum": 0.5, "type": "quantitative", "scale": {"domain": [0, 1]}, "axis": null}, "y": {"datum": 0.568, "type": "quantitative", "scale": {"domain": [0, 1], "reverse": true}, "axis": null}, "y2": {"datum": 0.958}}},
   {"mark": {"type": "text", "text": "% of Max", "angle": 270, "fontSize": 17, "font": "Liberation Sans", "align": "center", "baseline": "middle", "color": "#000"}, "encoding": {"x": {"datum": 0.75, "type": "quantitative", "scale": {"domain": [0, 1]}, "axis": null}, "y": {"datum": 0.5, "type": "quantitative", "scale": {"domain": [0, 1], "reverse": true}, "axis": null}}}
  ]},
 {"spacing": 2.5, "vconcat": [
  {"columns": 5, "bounds": "flush", "spacing": {"row": 59, "column": 29},
   "concat": [
    {"title": {"text": "Bifidobacterium", "subtitle": "bifidum BB-G90"}, "width": 102, "height": 101,
     "encoding": {"x": {"field": "x", "type": "quantitative", "scale": {"domain": [0, 100]}, "axis": {"values": [1,2.3,4.1,6.5,9.8,15.3,18.7,20.9,22.6,24.7,30.1,33.5,36,37.9,39.4,40.8,42,43.1,44,50.5,54.3,57,59.1,60.8,62.3,63.5,64.6,66,72.4,76.2,78.8,80.9,82.6,84,85.2,86.3,87.3,93.8,97.6]}}, "y": {"field": "y", "type": "quantitative", "scale": {"domain": [0, 105]}, "axis": {"values": [0,5,10,15,20,25,30,35,40,45,50,55,60,65,70,75,80,85,90,95,100]}}},
     "layer": [
      {"transform": [{"filter": "datum.p == 1 && datum.g == 'c'"}], "mark": {"type": "area", "fill": "#c6c6c6", "stroke": "#7c7c7c", "strokeWidth": 1, "interpolate": "monotone"}},
      {"transform": [{"filter": "datum.p == 1 && datum.g == 's'"}], "mark": {"type": "area", "fill": "#66bb33", "fillOpacity": 0.5, "stroke": "#4fae1f", "strokeWidth": 1.3, "interpolate": "monotone"}}
     ]},
    {"title": {"text": "Bifidobacterium", "subtitle": "breve BB-G95"}, "width": 102, "height": 101,
     "encoding": {"x": {"field": "x", "type": "quantitative", "scale": {"domain": [0, 100]}, "axis": {"values": [1,2.3,4.1,6.5,9.8,15.3,18.7,20.9,22.6,24.7,30.1,33.5,36,37.9,39.4,40.8,42,43.1,44,50.5,54.3,57,59.1,60.8,62.3,63.5,64.6,66,72.4,76.2,78.8,80.9,82.6,84,85.2,86.3,87.3,93.8,97.6]}}, "y": {"field": "y", "type": "quantitative", "scale": {"domain": [0, 105]}, "axis": {"values": [0,5,10,15,20,25,30,35,40,45,50,55,60,65,70,75,80,85,90,95,100]}}},
     "layer": [
      {"transform": [{"filter": "datum.p == 2 && datum.g == 'c'"}], "mark": {"type": "area", "fill": "#c6c6c6", "stroke": "#7c7c7c", "strokeWidth": 1, "interpolate": "monotone"}},
      {"transform": [{"filter": "datum.p == 2 && datum.g == 's'"}], "mark": {"type": "area", "fill": "#66bb33", "fillOpacity": 0.5, "stroke": "#4fae1f", "strokeWidth": 1.3, "interpolate": "monotone"}}
     ]},
    {"title": {"text": "Bifidobacterium", "subtitle": "infantis BI-G201"}, "width": 102, "height": 101,
     "encoding": {"x": {"field": "x", "type": "quantitative", "scale": {"domain": [0, 100]}, "axis": {"values": [1,2.3,4.1,6.5,9.8,15.3,18.7,20.9,22.6,24.7,30.1,33.5,36,37.9,39.4,40.8,42,43.1,44,50.5,54.3,57,59.1,60.8,62.3,63.5,64.6,66,72.4,76.2,78.8,80.9,82.6,84,85.2,86.3,87.3,93.8,97.6]}}, "y": {"field": "y", "type": "quantitative", "scale": {"domain": [0, 105]}, "axis": {"values": [0,5,10,15,20,25,30,35,40,45,50,55,60,65,70,75,80,85,90,95,100]}}},
     "layer": [
      {"transform": [{"filter": "datum.p == 3 && datum.g == 'c'"}], "mark": {"type": "area", "fill": "#c6c6c6", "stroke": "#7c7c7c", "strokeWidth": 1, "interpolate": "monotone"}},
      {"transform": [{"filter": "datum.p == 3 && datum.g == 's'"}], "mark": {"type": "area", "fill": "#66bb33", "fillOpacity": 0.5, "stroke": "#4fae1f", "strokeWidth": 1.3, "interpolate": "monotone"}}
     ]},
    {"title": {"text": "Bifidobacterium", "subtitle": "infantis BI-G191"}, "width": 102, "height": 101,
     "encoding": {"x": {"field": "x", "type": "quantitative", "scale": {"domain": [0, 100]}, "axis": {"values": [1,2.3,4.1,6.5,9.8,15.3,18.7,20.9,22.6,24.7,30.1,33.5,36,37.9,39.4,40.8,42,43.1,44,50.5,54.3,57,59.1,60.8,62.3,63.5,64.6,66,72.4,76.2,78.8,80.9,82.6,84,85.2,86.3,87.3,93.8,97.6]}}, "y": {"field": "y", "type": "quantitative", "scale": {"domain": [0, 105]}, "axis": {"values": [0,5,10,15,20,25,30,35,40,45,50,55,60,65,70,75,80,85,90,95,100]}}},
     "layer": [
      {"transform": [{"filter": "datum.p == 4 && datum.g == 'c'"}], "mark": {"type": "area", "fill": "#c6c6c6", "stroke": "#7c7c7c", "strokeWidth": 1, "interpolate": "monotone"}},
      {"transform": [{"filter": "datum.p == 4 && datum.g == 's'"}], "mark": {"type": "area", "fill": "#66bb33", "fillOpacity": 0.5, "stroke": "#4fae1f", "strokeWidth": 1.3, "interpolate": "monotone"}}
     ]},
    {"title": {"text": "Bifidobacterium", "subtitle": "lactis BL-G101"}, "width": 102, "height": 101,
     "encoding": {"x": {"field": "x", "type": "quantitative", "scale": {"domain": [0, 100]}, "axis": {"values": [1,2.3,4.1,6.5,9.8,15.3,18.7,20.9,22.6,24.7,30.1,33.5,36,37.9,39.4,40.8,42,43.1,44,50.5,54.3,57,59.1,60.8,62.3,63.5,64.6,66,72.4,76.2,78.8,80.9,82.6,84,85.2,86.3,87.3,93.8,97.6]}}, "y": {"field": "y", "type": "quantitative", "scale": {"domain": [0, 105]}, "axis": {"values": [0,5,10,15,20,25,30,35,40,45,50,55,60,65,70,75,80,85,90,95,100]}}},
     "layer": [
      {"transform": [{"filter": "datum.p == 5 && datum.g == 'c'"}], "mark": {"type": "area", "fill": "#c6c6c6", "stroke": "#7c7c7c", "strokeWidth": 1, "interpolate": "monotone"}},
      {"transform": [{"filter": "datum.p == 5 && datum.g == 's'"}], "mark": {"type": "area", "fill": "#66bb33", "fillOpacity": 0.5, "stroke": "#4fae1f", "strokeWidth": 1.3, "interpolate": "monotone"}}
     ]},
    {"title": {"text": "Bifidobacterium", "subtitle": "longum BL-G301"}, "width": 102, "height": 101,
     "encoding": {"x": {"field": "x", "type": "quantitative", "scale": {"domain": [0, 100]}, "axis": {"values": [1,2.3,4.1,6.5,9.8,15.3,18.7,20.9,22.6,24.7,30.1,33.5,36,37.9,39.4,40.8,42,43.1,44,50.5,54.3,57,59.1,60.8,62.3,63.5,64.6,66,72.4,76.2,78.8,80.9,82.6,84,85.2,86.3,87.3,93.8,97.6]}}, "y": {"field": "y", "type": "quantitative", "scale": {"domain": [0, 105]}, "axis": {"values": [0,5,10,15,20,25,30,35,40,45,50,55,60,65,70,75,80,85,90,95,100]}}},
     "layer": [
      {"transform": [{"filter": "datum.p == 6 && datum.g == 'c'"}], "mark": {"type": "area", "fill": "#c6c6c6", "stroke": "#7c7c7c", "strokeWidth": 1, "interpolate": "monotone"}},
      {"transform": [{"filter": "datum.p == 6 && datum.g == 's'"}], "mark": {"type": "area", "fill": "#66bb33", "fillOpacity": 0.5, "stroke": "#4fae1f", "strokeWidth": 1.3, "interpolate": "monotone"}}
     ]},
    {"title": {"text": "Lactobacillus", "subtitle": "acidophilus LA-G80"}, "width": 102, "height": 101,
     "encoding": {"x": {"field": "x", "type": "quantitative", "scale": {"domain": [0, 100]}, "axis": {"values": [1,2.3,4.1,6.5,9.8,15.3,18.7,20.9,22.6,24.7,30.1,33.5,36,37.9,39.4,40.8,42,43.1,44,50.5,54.3,57,59.1,60.8,62.3,63.5,64.6,66,72.4,76.2,78.8,80.9,82.6,84,85.2,86.3,87.3,93.8,97.6]}}, "y": {"field": "y", "type": "quantitative", "scale": {"domain": [0, 105]}, "axis": {"values": [0,5,10,15,20,25,30,35,40,45,50,55,60,65,70,75,80,85,90,95,100]}}},
     "layer": [
      {"transform": [{"filter": "datum.p == 7 && datum.g == 'c'"}], "mark": {"type": "area", "fill": "#c6c6c6", "stroke": "#7c7c7c", "strokeWidth": 1, "interpolate": "monotone"}},
      {"transform": [{"filter": "datum.p == 7 && datum.g == 's'"}], "mark": {"type": "area", "fill": "#66bb33", "fillOpacity": 0.5, "stroke": "#4fae1f", "strokeWidth": 1.3, "interpolate": "monotone"}}
     ]},
    {"title": {"text": "Lactobacillus", "subtitle": "acidophilus LA-G436"}, "width": 102, "height": 101,
     "encoding": {"x": {"field": "x", "type": "quantitative", "scale": {"domain": [0, 100]}, "axis": {"values": [1,2.3,4.1,6.5,9.8,15.3,18.7,20.9,22.6,24.7,30.1,33.5,36,37.9,39.4,40.8,42,43.1,44,50.5,54.3,57,59.1,60.8,62.3,63.5,64.6,66,72.4,76.2,78.8,80.9,82.6,84,85.2,86.3,87.3,93.8,97.6]}}, "y": {"field": "y", "type": "quantitative", "scale": {"domain": [0, 105]}, "axis": {"values": [0,5,10,15,20,25,30,35,40,45,50,55,60,65,70,75,80,85,90,95,100]}}},
     "layer": [
      {"transform": [{"filter": "datum.p == 8 && datum.g == 'c'"}], "mark": {"type": "area", "fill": "#c6c6c6", "stroke": "#7c7c7c", "strokeWidth": 1, "interpolate": "monotone"}},
      {"transform": [{"filter": "datum.p == 8 && datum.g == 's'"}], "mark": {"type": "area", "fill": "#66bb33", "fillOpacity": 0.5, "stroke": "#4fae1f", "strokeWidth": 1.3, "interpolate": "monotone"}}
     ]},
    {"title": {"text": "Lactobacillus", "subtitle": "bulgaricus LB-G4058"}, "width": 102, "height": 101,
     "encoding": {"x": {"field": "x", "type": "quantitative", "scale": {"domain": [0, 100]}, "axis": {"values": [1,2.3,4.1,6.5,9.8,15.3,18.7,20.9,22.6,24.7,30.1,33.5,36,37.9,39.4,40.8,42,43.1,44,50.5,54.3,57,59.1,60.8,62.3,63.5,64.6,66,72.4,76.2,78.8,80.9,82.6,84,85.2,86.3,87.3,93.8,97.6]}}, "y": {"field": "y", "type": "quantitative", "scale": {"domain": [0, 105]}, "axis": {"values": [0,5,10,15,20,25,30,35,40,45,50,55,60,65,70,75,80,85,90,95,100]}}},
     "layer": [
      {"transform": [{"filter": "datum.p == 9 && datum.g == 'c'"}], "mark": {"type": "area", "fill": "#c6c6c6", "stroke": "#7c7c7c", "strokeWidth": 1, "interpolate": "monotone"}},
      {"transform": [{"filter": "datum.p == 9 && datum.g == 's'"}], "mark": {"type": "area", "fill": "#66bb33", "fillOpacity": 0.5, "stroke": "#4fae1f", "strokeWidth": 1.3, "interpolate": "monotone"}}
     ]},
    {"title": {"text": "Lactobacillus", "subtitle": "bulgaricus LB-G117"}, "width": 102, "height": 101,
     "encoding": {"x": {"field": "x", "type": "quantitative", "scale": {"domain": [0, 100]}, "axis": {"values": [1,2.3,4.1,6.5,9.8,15.3,18.7,20.9,22.6,24.7,30.1,33.5,36,37.9,39.4,40.8,42,43.1,44,50.5,54.3,57,59.1,60.8,62.3,63.5,64.6,66,72.4,76.2,78.8,80.9,82.6,84,85.2,86.3,87.3,93.8,97.6]}}, "y": {"field": "y", "type": "quantitative", "scale": {"domain": [0, 105]}, "axis": {"values": [0,5,10,15,20,25,30,35,40,45,50,55,60,65,70,75,80,85,90,95,100]}}},
     "layer": [
      {"transform": [{"filter": "datum.p == 10 && datum.g == 'c'"}], "mark": {"type": "area", "fill": "#c6c6c6", "stroke": "#7c7c7c", "strokeWidth": 1, "interpolate": "monotone"}},
      {"transform": [{"filter": "datum.p == 10 && datum.g == 's'"}], "mark": {"type": "area", "fill": "#66bb33", "fillOpacity": 0.5, "stroke": "#4fae1f", "strokeWidth": 1.3, "interpolate": "monotone"}}
     ]},
    {"title": {"text": "Lactobacillus", "subtitle": "bulgaricus LB-G40"}, "width": 102, "height": 101,
     "encoding": {"x": {"field": "x", "type": "quantitative", "scale": {"domain": [0, 100]}, "axis": {"values": [1,2.3,4.1,6.5,9.8,15.3,18.7,20.9,22.6,24.7,30.1,33.5,36,37.9,39.4,40.8,42,43.1,44,50.5,54.3,57,59.1,60.8,62.3,63.5,64.6,66,72.4,76.2,78.8,80.9,82.6,84,85.2,86.3,87.3,93.8,97.6]}}, "y": {"field": "y", "type": "quantitative", "scale": {"domain": [0, 105]}, "axis": {"values": [0,5,10,15,20,25,30,35,40,45,50,55,60,65,70,75,80,85,90,95,100]}}},
     "layer": [
      {"transform": [{"filter": "datum.p == 11 && datum.g == 'c'"}], "mark": {"type": "area", "fill": "#c6c6c6", "stroke": "#7c7c7c", "strokeWidth": 1, "interpolate": "monotone"}},
      {"transform": [{"filter": "datum.p == 11 && datum.g == 's'"}], "mark": {"type": "area", "fill": "#66bb33", "fillOpacity": 0.5, "stroke": "#4fae1f", "strokeWidth": 1.3, "interpolate": "monotone"}}
     ]},
    {"title": {"text": "Lactobacillus", "subtitle": "casei LC-G402"}, "width": 102, "height": 101,
     "encoding": {"x": {"field": "x", "type": "quantitative", "scale": {"domain": [0, 100]}, "axis": {"values": [1,2.3,4.1,6.5,9.8,15.3,18.7,20.9,22.6,24.7,30.1,33.5,36,37.9,39.4,40.8,42,43.1,44,50.5,54.3,57,59.1,60.8,62.3,63.5,64.6,66,72.4,76.2,78.8,80.9,82.6,84,85.2,86.3,87.3,93.8,97.6]}}, "y": {"field": "y", "type": "quantitative", "scale": {"domain": [0, 105]}, "axis": {"values": [0,5,10,15,20,25,30,35,40,45,50,55,60,65,70,75,80,85,90,95,100]}}},
     "layer": [
      {"transform": [{"filter": "datum.p == 12 && datum.g == 'c'"}], "mark": {"type": "area", "fill": "#c6c6c6", "stroke": "#7c7c7c", "strokeWidth": 1, "interpolate": "monotone"}},
      {"transform": [{"filter": "datum.p == 12 && datum.g == 's'"}], "mark": {"type": "area", "fill": "#66bb33", "fillOpacity": 0.5, "stroke": "#4fae1f", "strokeWidth": 1.3, "interpolate": "monotone"}}
     ]},
    {"title": {"text": "Lactobacillus", "subtitle": "casei LC-G11"}, "width": 102, "height": 101,
     "encoding": {"x": {"field": "x", "type": "quantitative", "scale": {"domain": [0, 100]}, "axis": {"values": [1,2.3,4.1,6.5,9.8,15.3,18.7,20.9,22.6,24.7,30.1,33.5,36,37.9,39.4,40.8,42,43.1,44,50.5,54.3,57,59.1,60.8,62.3,63.5,64.6,66,72.4,76.2,78.8,80.9,82.6,84,85.2,86.3,87.3,93.8,97.6]}}, "y": {"field": "y", "type": "quantitative", "scale": {"domain": [0, 105]}, "axis": {"values": [0,5,10,15,20,25,30,35,40,45,50,55,60,65,70,75,80,85,90,95,100]}}},
     "layer": [
      {"transform": [{"filter": "datum.p == 13 && datum.g == 'c'"}], "mark": {"type": "area", "fill": "#c6c6c6", "stroke": "#7c7c7c", "strokeWidth": 1, "interpolate": "monotone"}},
      {"transform": [{"filter": "datum.p == 13 && datum.g == 's'"}], "mark": {"type": "area", "fill": "#66bb33", "fillOpacity": 0.5, "stroke": "#4fae1f", "strokeWidth": 1.3, "interpolate": "monotone"}}
     ]},
    {"title": {"text": "Lactobacillus", "subtitle": "cremoris LLC-G42"}, "width": 102, "height": 101,
     "encoding": {"x": {"field": "x", "type": "quantitative", "scale": {"domain": [0, 100]}, "axis": {"values": [1,2.3,4.1,6.5,9.8,15.3,18.7,20.9,22.6,24.7,30.1,33.5,36,37.9,39.4,40.8,42,43.1,44,50.5,54.3,57,59.1,60.8,62.3,63.5,64.6,66,72.4,76.2,78.8,80.9,82.6,84,85.2,86.3,87.3,93.8,97.6]}}, "y": {"field": "y", "type": "quantitative", "scale": {"domain": [0, 105]}, "axis": {"values": [0,5,10,15,20,25,30,35,40,45,50,55,60,65,70,75,80,85,90,95,100]}}},
     "layer": [
      {"transform": [{"filter": "datum.p == 14 && datum.g == 'c'"}], "mark": {"type": "area", "fill": "#c6c6c6", "stroke": "#7c7c7c", "strokeWidth": 1, "interpolate": "monotone"}},
      {"transform": [{"filter": "datum.p == 14 && datum.g == 's'"}], "mark": {"type": "area", "fill": "#66bb33", "fillOpacity": 0.5, "stroke": "#4fae1f", "strokeWidth": 1.3, "interpolate": "monotone"}}
     ]},
    {"title": {"text": "Lactobacillus", "subtitle": "helveticus LH-G444"}, "width": 102, "height": 101,
     "encoding": {"x": {"field": "x", "type": "quantitative", "scale": {"domain": [0, 100]}, "axis": {"values": [1,2.3,4.1,6.5,9.8,15.3,18.7,20.9,22.6,24.7,30.1,33.5,36,37.9,39.4,40.8,42,43.1,44,50.5,54.3,57,59.1,60.8,62.3,63.5,64.6,66,72.4,76.2,78.8,80.9,82.6,84,85.2,86.3,87.3,93.8,97.6]}}, "y": {"field": "y", "type": "quantitative", "scale": {"domain": [0, 105]}, "axis": {"values": [0,5,10,15,20,25,30,35,40,45,50,55,60,65,70,75,80,85,90,95,100]}}},
     "layer": [
      {"transform": [{"filter": "datum.p == 15 && datum.g == 'c'"}], "mark": {"type": "area", "fill": "#c6c6c6", "stroke": "#7c7c7c", "strokeWidth": 1, "interpolate": "monotone"}},
      {"transform": [{"filter": "datum.p == 15 && datum.g == 's'"}], "mark": {"type": "area", "fill": "#66bb33", "fillOpacity": 0.5, "stroke": "#4fae1f", "strokeWidth": 1.3, "interpolate": "monotone"}}
     ]},
    {"title": {"text": "Lactobacillus", "subtitle": "lactis LLL-G25"}, "width": 102, "height": 101,
     "encoding": {"x": {"field": "x", "type": "quantitative", "scale": {"domain": [0, 100]}, "axis": {"values": [1,2.3,4.1,6.5,9.8,15.3,18.7,20.9,22.6,24.7,30.1,33.5,36,37.9,39.4,40.8,42,43.1,44,50.5,54.3,57,59.1,60.8,62.3,63.5,64.6,66,72.4,76.2,78.8,80.9,82.6,84,85.2,86.3,87.3,93.8,97.6]}}, "y": {"field": "y", "type": "quantitative", "scale": {"domain": [0, 105]}, "axis": {"values": [0,5,10,15,20,25,30,35,40,45,50,55,60,65,70,75,80,85,90,95,100]}}},
     "layer": [
      {"transform": [{"filter": "datum.p == 16 && datum.g == 'c'"}], "mark": {"type": "area", "fill": "#c6c6c6", "stroke": "#7c7c7c", "strokeWidth": 1, "interpolate": "monotone"}},
      {"transform": [{"filter": "datum.p == 16 && datum.g == 's'"}], "mark": {"type": "area", "fill": "#66bb33", "fillOpacity": 0.5, "stroke": "#4fae1f", "strokeWidth": 1.3, "interpolate": "monotone"}}
     ]},
    {"title": {"text": "Lactobacillus", "subtitle": "paracasei LpC-G110"}, "width": 102, "height": 101,
     "encoding": {"x": {"field": "x", "type": "quantitative", "scale": {"domain": [0, 100]}, "axis": {"values": [1,2.3,4.1,6.5,9.8,15.3,18.7,20.9,22.6,24.7,30.1,33.5,36,37.9,39.4,40.8,42,43.1,44,50.5,54.3,57,59.1,60.8,62.3,63.5,64.6,66,72.4,76.2,78.8,80.9,82.6,84,85.2,86.3,87.3,93.8,97.6]}}, "y": {"field": "y", "type": "quantitative", "scale": {"domain": [0, 105]}, "axis": {"values": [0,5,10,15,20,25,30,35,40,45,50,55,60,65,70,75,80,85,90,95,100]}}},
     "layer": [
      {"transform": [{"filter": "datum.p == 17 && datum.g == 'c'"}], "mark": {"type": "area", "fill": "#c6c6c6", "stroke": "#7c7c7c", "strokeWidth": 1, "interpolate": "monotone"}},
      {"transform": [{"filter": "datum.p == 17 && datum.g == 's'"}], "mark": {"type": "area", "fill": "#66bb33", "fillOpacity": 0.5, "stroke": "#4fae1f", "strokeWidth": 1.3, "interpolate": "monotone"}}
     ]},
    {"title": {"text": "Lactobacillus", "subtitle": "plantarum Lp-G18"}, "width": 102, "height": 101,
     "encoding": {"x": {"field": "x", "type": "quantitative", "scale": {"domain": [0, 100]}, "axis": {"values": [1,2.3,4.1,6.5,9.8,15.3,18.7,20.9,22.6,24.7,30.1,33.5,36,37.9,39.4,40.8,42,43.1,44,50.5,54.3,57,59.1,60.8,62.3,63.5,64.6,66,72.4,76.2,78.8,80.9,82.6,84,85.2,86.3,87.3,93.8,97.6]}}, "y": {"field": "y", "type": "quantitative", "scale": {"domain": [0, 105]}, "axis": {"values": [0,5,10,15,20,25,30,35,40,45,50,55,60,65,70,75,80,85,90,95,100]}}},
     "layer": [
      {"transform": [{"filter": "datum.p == 18 && datum.g == 'c'"}], "mark": {"type": "area", "fill": "#c6c6c6", "stroke": "#7c7c7c", "strokeWidth": 1, "interpolate": "monotone"}},
      {"transform": [{"filter": "datum.p == 18 && datum.g == 's'"}], "mark": {"type": "area", "fill": "#66bb33", "fillOpacity": 0.5, "stroke": "#4fae1f", "strokeWidth": 1.3, "interpolate": "monotone"}}
     ]},
    {"title": {"text": "Lactobacillus", "subtitle": "plantarum Lp-G425"}, "width": 102, "height": 101,
     "encoding": {"x": {"field": "x", "type": "quantitative", "scale": {"domain": [0, 100]}, "axis": {"values": [1,2.3,4.1,6.5,9.8,15.3,18.7,20.9,22.6,24.7,30.1,33.5,36,37.9,39.4,40.8,42,43.1,44,50.5,54.3,57,59.1,60.8,62.3,63.5,64.6,66,72.4,76.2,78.8,80.9,82.6,84,85.2,86.3,87.3,93.8,97.6]}}, "y": {"field": "y", "type": "quantitative", "scale": {"domain": [0, 105]}, "axis": {"values": [0,5,10,15,20,25,30,35,40,45,50,55,60,65,70,75,80,85,90,95,100]}}},
     "layer": [
      {"transform": [{"filter": "datum.p == 19 && datum.g == 'c'"}], "mark": {"type": "area", "fill": "#c6c6c6", "stroke": "#7c7c7c", "strokeWidth": 1, "interpolate": "monotone"}},
      {"transform": [{"filter": "datum.p == 19 && datum.g == 's'"}], "mark": {"type": "area", "fill": "#66bb33", "fillOpacity": 0.5, "stroke": "#4fae1f", "strokeWidth": 1.3, "interpolate": "monotone"}}
     ]},
    {"title": {"text": "Lactobacillus", "subtitle": "plantarum Lp-G429"}, "width": 102, "height": 101,
     "encoding": {"x": {"field": "x", "type": "quantitative", "scale": {"domain": [0, 100]}, "axis": {"values": [1,2.3,4.1,6.5,9.8,15.3,18.7,20.9,22.6,24.7,30.1,33.5,36,37.9,39.4,40.8,42,43.1,44,50.5,54.3,57,59.1,60.8,62.3,63.5,64.6,66,72.4,76.2,78.8,80.9,82.6,84,85.2,86.3,87.3,93.8,97.6]}}, "y": {"field": "y", "type": "quantitative", "scale": {"domain": [0, 105]}, "axis": {"values": [0,5,10,15,20,25,30,35,40,45,50,55,60,65,70,75,80,85,90,95,100]}}},
     "layer": [
      {"transform": [{"filter": "datum.p == 20 && datum.g == 'c'"}], "mark": {"type": "area", "fill": "#c6c6c6", "stroke": "#7c7c7c", "strokeWidth": 1, "interpolate": "monotone"}},
      {"transform": [{"filter": "datum.p == 20 && datum.g == 's'"}], "mark": {"type": "area", "fill": "#66bb33", "fillOpacity": 0.5, "stroke": "#4fae1f", "strokeWidth": 1.3, "interpolate": "monotone"}}
     ]},
    {"title": {"text": "Lactobacillus", "subtitle": "plantarum Lp-G443"}, "width": 102, "height": 101,
     "encoding": {"x": {"field": "x", "type": "quantitative", "scale": {"domain": [0, 100]}, "axis": {"values": [1,2.3,4.1,6.5,9.8,15.3,18.7,20.9,22.6,24.7,30.1,33.5,36,37.9,39.4,40.8,42,43.1,44,50.5,54.3,57,59.1,60.8,62.3,63.5,64.6,66,72.4,76.2,78.8,80.9,82.6,84,85.2,86.3,87.3,93.8,97.6]}}, "y": {"field": "y", "type": "quantitative", "scale": {"domain": [0, 105]}, "axis": {"values": [0,5,10,15,20,25,30,35,40,45,50,55,60,65,70,75,80,85,90,95,100]}}},
     "layer": [
      {"transform": [{"filter": "datum.p == 21 && datum.g == 'c'"}], "mark": {"type": "area", "fill": "#c6c6c6", "stroke": "#7c7c7c", "strokeWidth": 1, "interpolate": "monotone"}},
      {"transform": [{"filter": "datum.p == 21 && datum.g == 's'"}], "mark": {"type": "area", "fill": "#66bb33", "fillOpacity": 0.5, "stroke": "#4fae1f", "strokeWidth": 1.3, "interpolate": "monotone"}}
     ]},
    {"title": {"text": "Lactobacillus", "subtitle": "reuteri Lr-G100"}, "width": 102, "height": 101,
     "encoding": {"x": {"field": "x", "type": "quantitative", "scale": {"domain": [0, 100]}, "axis": {"values": [1,2.3,4.1,6.5,9.8,15.3,18.7,20.9,22.6,24.7,30.1,33.5,36,37.9,39.4,40.8,42,43.1,44,50.5,54.3,57,59.1,60.8,62.3,63.5,64.6,66,72.4,76.2,78.8,80.9,82.6,84,85.2,86.3,87.3,93.8,97.6]}}, "y": {"field": "y", "type": "quantitative", "scale": {"domain": [0, 105]}, "axis": {"values": [0,5,10,15,20,25,30,35,40,45,50,55,60,65,70,75,80,85,90,95,100]}}},
     "layer": [
      {"transform": [{"filter": "datum.p == 22 && datum.g == 'c'"}], "mark": {"type": "area", "fill": "#c6c6c6", "stroke": "#7c7c7c", "strokeWidth": 1, "interpolate": "monotone"}},
      {"transform": [{"filter": "datum.p == 22 && datum.g == 's'"}], "mark": {"type": "area", "fill": "#66bb33", "fillOpacity": 0.5, "stroke": "#4fae1f", "strokeWidth": 1.3, "interpolate": "monotone"}}
     ]},
    {"title": {"text": "Lactobacillus", "subtitle": "rhamnosus Lr-G14"}, "width": 102, "height": 101,
     "encoding": {"x": {"field": "x", "type": "quantitative", "scale": {"domain": [0, 100]}, "axis": {"values": [1,2.3,4.1,6.5,9.8,15.3,18.7,20.9,22.6,24.7,30.1,33.5,36,37.9,39.4,40.8,42,43.1,44,50.5,54.3,57,59.1,60.8,62.3,63.5,64.6,66,72.4,76.2,78.8,80.9,82.6,84,85.2,86.3,87.3,93.8,97.6]}}, "y": {"field": "y", "type": "quantitative", "scale": {"domain": [0, 105]}, "axis": {"values": [0,5,10,15,20,25,30,35,40,45,50,55,60,65,70,75,80,85,90,95,100]}}},
     "layer": [
      {"transform": [{"filter": "datum.p == 23 && datum.g == 'c'"}], "mark": {"type": "area", "fill": "#c6c6c6", "stroke": "#7c7c7c", "strokeWidth": 1, "interpolate": "monotone"}},
      {"transform": [{"filter": "datum.p == 23 && datum.g == 's'"}], "mark": {"type": "area", "fill": "#66bb33", "fillOpacity": 0.5, "stroke": "#4fae1f", "strokeWidth": 1.3, "interpolate": "monotone"}}
     ]},
    {"title": {"text": "Lactobacillus", "subtitle": "rhamnosus Lr-G26"}, "width": 102, "height": 101,
     "encoding": {"x": {"field": "x", "type": "quantitative", "scale": {"domain": [0, 100]}, "axis": {"values": [1,2.3,4.1,6.5,9.8,15.3,18.7,20.9,22.6,24.7,30.1,33.5,36,37.9,39.4,40.8,42,43.1,44,50.5,54.3,57,59.1,60.8,62.3,63.5,64.6,66,72.4,76.2,78.8,80.9,82.6,84,85.2,86.3,87.3,93.8,97.6]}}, "y": {"field": "y", "type": "quantitative", "scale": {"domain": [0, 105]}, "axis": {"values": [0,5,10,15,20,25,30,35,40,45,50,55,60,65,70,75,80,85,90,95,100]}}},
     "layer": [
      {"transform": [{"filter": "datum.p == 24 && datum.g == 'c'"}], "mark": {"type": "area", "fill": "#c6c6c6", "stroke": "#7c7c7c", "strokeWidth": 1, "interpolate": "monotone"}},
      {"transform": [{"filter": "datum.p == 24 && datum.g == 's'"}], "mark": {"type": "area", "fill": "#66bb33", "fillOpacity": 0.5, "stroke": "#4fae1f", "strokeWidth": 1.3, "interpolate": "monotone"}}
     ]},
    {"title": {"text": "Lactobacillus", "subtitle": "salivarus LS-G60"}, "width": 102, "height": 101,
     "encoding": {"x": {"field": "x", "type": "quantitative", "scale": {"domain": [0, 100]}, "axis": {"values": [1,2.3,4.1,6.5,9.8,15.3,18.7,20.9,22.6,24.7,30.1,33.5,36,37.9,39.4,40.8,42,43.1,44,50.5,54.3,57,59.1,60.8,62.3,63.5,64.6,66,72.4,76.2,78.8,80.9,82.6,84,85.2,86.3,87.3,93.8,97.6]}}, "y": {"field": "y", "type": "quantitative", "scale": {"domain": [0, 105]}, "axis": {"values": [0,5,10,15,20,25,30,35,40,45,50,55,60,65,70,75,80,85,90,95,100]}}},
     "layer": [
      {"transform": [{"filter": "datum.p == 25 && datum.g == 'c'"}], "mark": {"type": "area", "fill": "#c6c6c6", "stroke": "#7c7c7c", "strokeWidth": 1, "interpolate": "monotone"}},
      {"transform": [{"filter": "datum.p == 25 && datum.g == 's'"}], "mark": {"type": "area", "fill": "#66bb33", "fillOpacity": 0.5, "stroke": "#4fae1f", "strokeWidth": 1.3, "interpolate": "monotone"}}
     ]}
   ]},
  {"bounds": "flush", "spacing": 29, "hconcat": [
    {"title": {"text": "Streptococcus", "subtitle": "thermophilus ST-G30"}, "width": 102, "height": 101,
     "encoding": {"x": {"field": "x", "type": "quantitative", "scale": {"domain": [0, 100]}, "axis": {"values": [1,2.3,4.1,6.5,9.8,15.3,18.7,20.9,22.6,24.7,30.1,33.5,36,37.9,39.4,40.8,42,43.1,44,50.5,54.3,57,59.1,60.8,62.3,63.5,64.6,66,72.4,76.2,78.8,80.9,82.6,84,85.2,86.3,87.3,93.8,97.6]}}, "y": {"field": "y", "type": "quantitative", "scale": {"domain": [0, 105]}, "axis": {"values": [0,5,10,15,20,25,30,35,40,45,50,55,60,65,70,75,80,85,90,95,100]}}},
     "layer": [
      {"transform": [{"filter": "datum.p == 26 && datum.g == 'c'"}], "mark": {"type": "area", "fill": "#c6c6c6", "stroke": "#7c7c7c", "strokeWidth": 1, "interpolate": "monotone"}},
      {"transform": [{"filter": "datum.p == 26 && datum.g == 's'"}], "mark": {"type": "area", "fill": "#66bb33", "fillOpacity": 0.5, "stroke": "#4fae1f", "strokeWidth": 1.3, "interpolate": "monotone"}}
     ]},
    {"title": {"text": "Escherichia", "subtitle": "coli O86:B7"}, "width": 102, "height": 101,
     "encoding": {"x": {"field": "x", "type": "quantitative", "scale": {"domain": [0, 100]}, "axis": {"values": [1,2.3,4.1,6.5,9.8,15.3,18.7,20.9,22.6,24.7,30.1,33.5,36,37.9,39.4,40.8,42,43.1,44,50.5,54.3,57,59.1,60.8,62.3,63.5,64.6,66,72.4,76.2,78.8,80.9,82.6,84,85.2,86.3,87.3,93.8,97.6]}}, "y": {"field": "y", "type": "quantitative", "scale": {"domain": [0, 105]}, "axis": {"values": [0,5,10,15,20,25,30,35,40,45,50,55,60,65,70,75,80,85,90,95,100]}}},
     "layer": [
      {"transform": [{"filter": "datum.p == 27 && datum.g == 'c'"}], "mark": {"type": "area", "fill": "#c6c6c6", "stroke": "#7c7c7c", "strokeWidth": 1, "interpolate": "monotone"}},
      {"transform": [{"filter": "datum.p == 27 && datum.g == 's'"}], "mark": {"type": "area", "fill": "#66bb33", "fillOpacity": 0.5, "stroke": "#4fae1f", "strokeWidth": 1.3, "interpolate": "monotone"}}
     ]},
    {"width": 158, "height": 101, "view": {"stroke": null}, "data": {"values": [{}]},
     "mark": {"type": "rule", "opacity": 0},
     "encoding": {"x": {"datum": 0.5, "type": "quantitative", "scale": {"domain": [0, 1]}, "axis": {"orient": "top", "offset": 33, "ticks": false, "labels": false, "domain": true, "domainColor": "#000", "domainWidth": 1.2, "values": [0.5]}}}},
    {"width": 7, "height": 101, "view": {"stroke": null}, "data": {"values": [{}]},
     "title": {"text": "αGal", "fontSize": 20, "fontStyle": "normal", "offset": 21, "dx": 0},
     "mark": {"type": "rule", "opacity": 0},
     "encoding": {"x": {"datum": 0.5, "type": "quantitative", "scale": {"domain": [0, 1]}, "axis": null}}},
    {"width": 147, "height": 101, "view": {"stroke": null}, "data": {"values": [{}]},
     "mark": {"type": "rule", "opacity": 0},
     "encoding": {"x": {"datum": 0.5, "type": "quantitative", "scale": {"domain": [0, 1]}, "axis": {"orient": "top", "offset": 33, "ticks": false, "labels": false, "domain": true, "domainColor": "#000", "domainWidth": 1.2, "values": [0.5]}}}}
  ]},
  {"width": 234, "height": 16, "view": {"stroke": null}, "data": {"values": [{}]},
   "layer": [
    {"mark": {"type": "rule", "color": "#000", "strokeWidth": 1.2}, "encoding": {"x": {"datum": 0, "type": "quantitative", "scale": {"domain": [0, 1]}, "axis": null}, "x2": {"datum": 0.338}, "y": {"datum": 0.85, "type": "quantitative", "scale": {"domain": [0, 1]}, "axis": null}}},
    {"mark": {"type": "rule", "color": "#000", "strokeWidth": 1.2}, "encoding": {"x": {"datum": 0.594, "type": "quantitative", "scale": {"domain": [0, 1]}, "axis": null}, "x2": {"datum": 1}, "y": {"datum": 0.85, "type": "quantitative", "scale": {"domain": [0, 1]}, "axis": null}}},
    {"mark": {"type": "text", "text": "αGal", "fontSize": 20, "font": "Liberation Sans", "align": "center", "baseline": "middle", "color": "#000"}, "encoding": {"x": {"datum": 0.466, "type": "quantitative", "scale": {"domain": [0, 1]}, "axis": null}, "y": {"datum": 0.85, "type": "quantitative", "scale": {"domain": [0, 1]}, "axis": null}}}
   ]}
 ]}
]
}
